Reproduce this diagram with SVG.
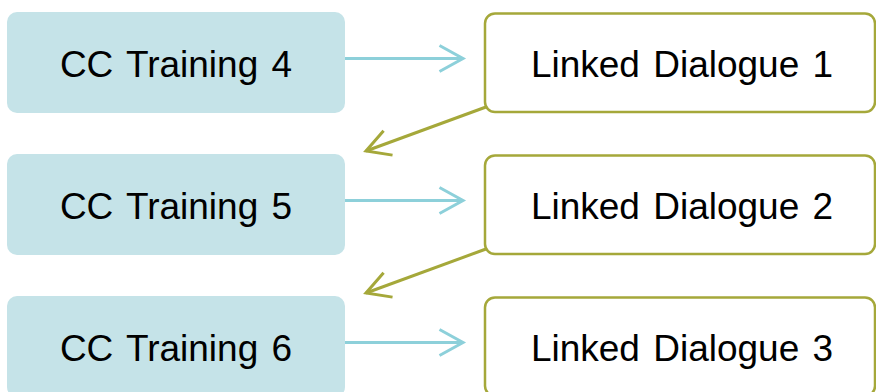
<svg xmlns="http://www.w3.org/2000/svg" width="876" height="392" viewBox="0 0 876 392">
<style>
.cc rect{fill:#c5e3e8;stroke:none}
.ld rect{fill:#ffffff;stroke:#a5a83a;stroke-width:2.5}
text{font-family:"Liberation Sans",Arial,sans-serif;font-size:37px;fill:#000;text-anchor:middle;word-spacing:3px}
.cy{stroke:#8dd0da;stroke-width:3;fill:none}
.ol{stroke:#a5a83a;stroke-width:3;fill:none}
</style>
<defs>
<marker id="ahC" markerUnits="userSpaceOnUse" viewBox="-26 -16 30 32" refX="0" refY="0" markerWidth="30" markerHeight="32" orient="auto" overflow="visible">
<path d="M-23.5,-13 L0,0 L-23.5,13" fill="none" stroke="#8dd0da" stroke-width="3"/>
</marker>
<marker id="ahO" markerUnits="userSpaceOnUse" viewBox="-26 -16 30 32" refX="0" refY="0" markerWidth="30" markerHeight="32" orient="auto" overflow="visible">
<path d="M-23.5,-13 L0,0 L-23.5,13" fill="none" stroke="#a5a83a" stroke-width="3"/>
</marker>
</defs>
<g id="cc4" class="cc"><rect x="7" y="12" width="338" height="101" rx="10"/><text x="176" y="76.5">CC Training 4</text></g>
<g id="cc5" class="cc"><rect x="7" y="154" width="338" height="101" rx="10"/><text x="176" y="218.5">CC Training 5</text></g>
<g id="cc6" class="cc"><rect x="7" y="296" width="338" height="101" rx="10"/><text x="176" y="360.5">CC Training 6</text></g>
<g id="ld1" class="ld"><rect x="485" y="13.5" width="390" height="98.5" rx="10"/><text x="682" y="76.5">Linked Dialogue 1</text></g>
<g id="ld2" class="ld"><rect x="485" y="155.5" width="390" height="98.5" rx="10"/><text x="682" y="218.5">Linked Dialogue 2</text></g>
<g id="ld3" class="ld"><rect x="485" y="297.5" width="390" height="98.5" rx="10"/><text x="682" y="360.5">Linked Dialogue 3</text></g>
<g id="connectors">
<line class="cy" x1="345" y1="58.5" x2="463" y2="58.5" marker-end="url(#ahC)"/>
<line class="cy" x1="345" y1="200.5" x2="463" y2="200.5" marker-end="url(#ahC)"/>
<line class="cy" x1="345" y1="342.5" x2="463" y2="342.5" marker-end="url(#ahC)"/>
<line class="ol" x1="486" y1="107" x2="366" y2="151" marker-end="url(#ahO)"/>
<line class="ol" x1="486" y1="249" x2="366" y2="293" marker-end="url(#ahO)"/>
</g>
</svg>
